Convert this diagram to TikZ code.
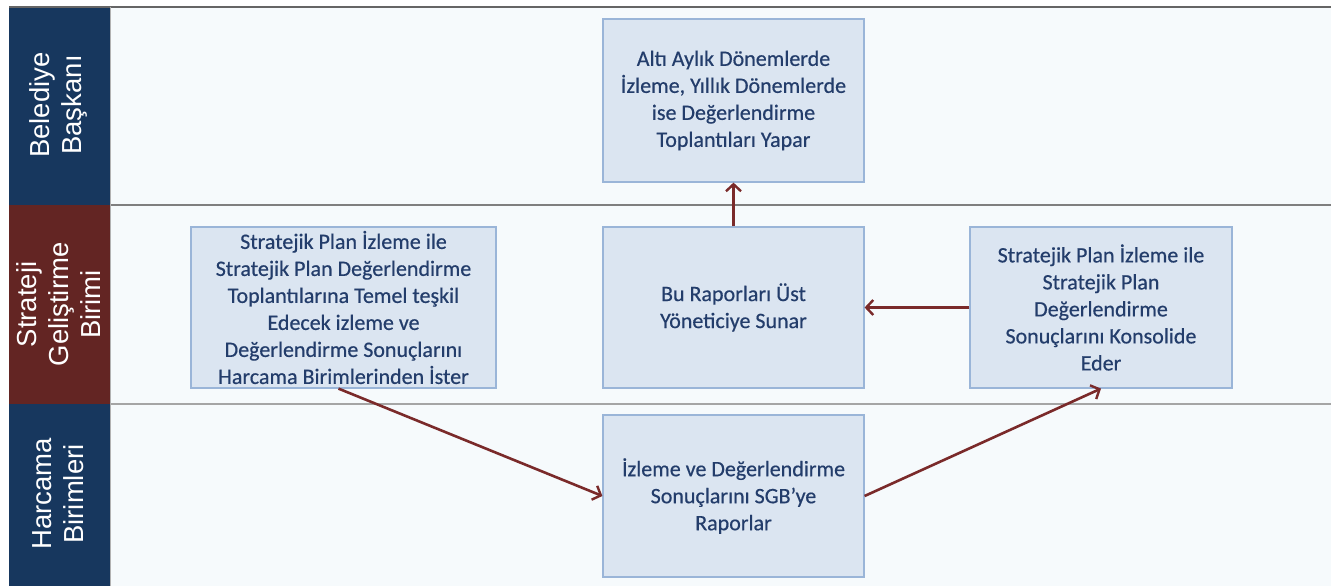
\documentclass[tikz,border=0pt]{standalone}
\usepackage{fontspec}
\setmainfont{Carlito}
\newfontfamily\boxfont{Carlito}[FakeBold=0.5]
\newfontfamily\lanefont{Liberation Sans}
\usetikzlibrary{arrows.meta}
\definecolor{navyhdr}{HTML}{17375E}
\definecolor{redhdr}{HTML}{632523}
\definecolor{lanebg}{HTML}{F6FAFC}
\definecolor{boxfill}{HTML}{DBE5F1}
\definecolor{boxline}{HTML}{9AB5D8}
\definecolor{boxtext}{HTML}{233D6B}
\definecolor{arrowc}{HTML}{7A2A2A}
\definecolor{sepline}{HTML}{7F7F7F}
\tikzset{
  procbox/.style={draw=boxline, line width=1.2pt, fill=boxfill, text=boxtext,
    align=center, inner sep=0pt, font=\boxfont\fontsize{22}{27}\selectfont},
  lanehdr/.style={text=white, rotate=90, align=center, font=\lanefont\fontsize{27.5}{32}\selectfont},
  flow/.style={draw=arrowc, line width=2.6pt, -{Straight Barb[length=7pt,width=15pt,line width=2.4pt]}}
}
\begin{document}
\begin{tikzpicture}[x=1pt,y=-1pt]
\useasboundingbox (0,0) rectangle (1331,586);
\fill[white] (0,0) rectangle (1331,586);
% lane backgrounds
\fill[lanebg] (110,7) rectangle (1331,586);
% headers
\fill[navyhdr] (9,7) rectangle (110,205);
\fill[redhdr] (9,205) rectangle (110,404);
\fill[navyhdr] (9,404) rectangle (110,586);
\node[lanehdr] (h1) at (58.5,105) {Belediye\\Başkanı};
\node[lanehdr] (h2) at (58.5,304.5) {Strateji\\Geliştirme\\Birimi};
\node[lanehdr] (h3) at (58.5,494) {Harcama\\Birimleri};
% separators
\draw[sepline!80!black, line width=1.2pt] (9,7) -- (1331,7);
\draw[sepline, line width=1.2pt] (110,205) -- (1331,205);
\draw[sepline!70, line width=2.2pt] (110,404) -- (1331,404);
\draw[sepline!60, line width=0.8pt] (110,7) -- (110,586);
% boxes
\node[procbox, minimum width=261pt, minimum height=163pt] (top) at (733.5,100.5)
  {Altı Aylık Dönemlerde\\İzleme, Yıllık Dönemlerde\\ise Değerlendirme\\Toplantıları Yapar};
\node[procbox, minimum width=305pt, minimum height=161pt] (left) at (343.5,307.5)
  {Stratejik Plan İzleme ile\\Stratejik Plan Değerlendirme\\Toplantılarına Temel teşkil\\Edecek izleme ve\\Değerlendirme Sonuçlarını\\Harcama Birimlerinden İster};
\node[procbox, minimum width=261pt, minimum height=161pt] (mid) at (733.5,307.5)
  {Bu Raporları Üst\\Yöneticiye Sunar};
\node[procbox, minimum width=262pt, minimum height=161pt] (right) at (1101,307.5)
  {Stratejik Plan İzleme ile\\Stratejik Plan\\Değerlendirme\\Sonuçlarını Konsolide\\Eder};
\node[procbox, minimum width=261pt, minimum height=162pt] (bot) at (733.5,496)
  {İzleme ve Değerlendirme\\Sonuçlarını SGB’ye\\Raporlar};
% connectors
\draw[flow] (mid.north) -- (top.south);
\draw[flow] (right.west) -- (mid.east);
\draw[flow] ([xshift=-5pt]left.south) -- (bot.west);
\draw[flow] (bot.east) -- (right.south);
\end{tikzpicture}
\end{document}
